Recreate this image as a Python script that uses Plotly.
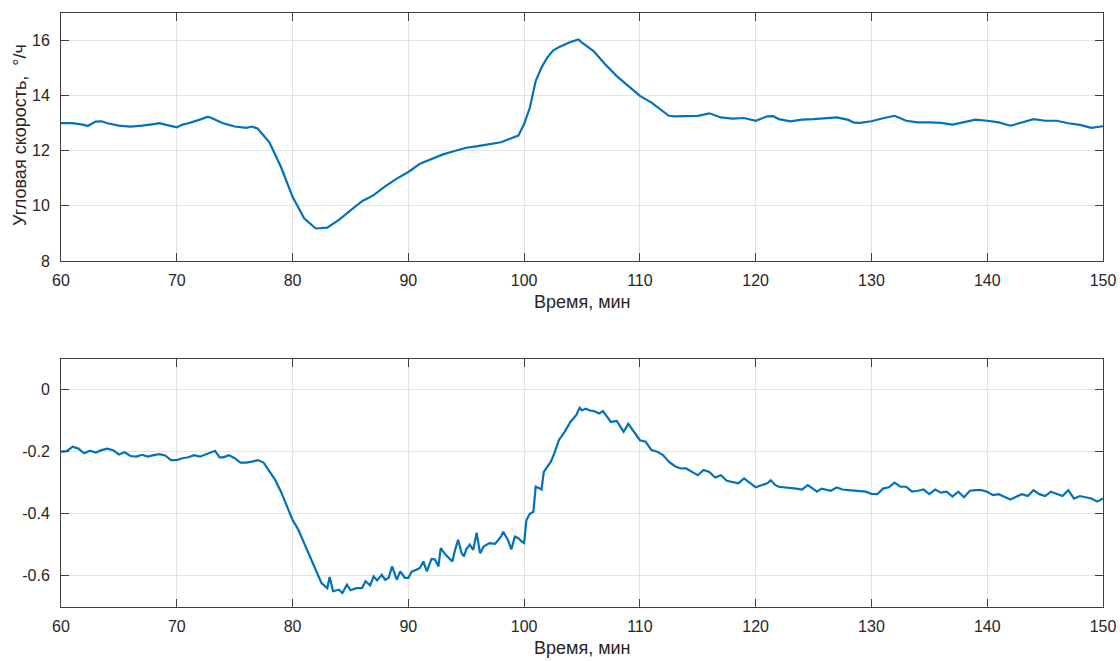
import plotly.graph_objects as go

# ---- Top panel: angular rate, deg/h ----
t_top = [60, 61, 62, 62.3, 63, 63.5, 64, 65, 66, 67, 68, 68.5, 69, 70, 70.5, 71, 72, 72.7, 73, 74,
         75, 76, 76.5, 77, 78, 79, 80, 81, 82, 83, 84, 85, 86, 87, 88, 89, 90, 91, 92, 93,
         94, 95, 96, 97, 98, 99, 99.5, 100, 100.5, 101, 101.5, 102, 102.5, 103, 104, 104.7, 105, 106, 107, 108,
         109, 110, 111, 112, 112.5, 113, 114, 115, 116, 117, 118, 119, 120, 121, 121.5, 122, 123, 124, 125, 126,
         127, 128, 128.5, 129, 130, 131, 132, 133, 134, 135, 136, 137, 138, 139, 140, 141, 142, 143, 144, 145,
         146, 147, 148, 149, 150]
v_top = [13.0, 13.0, 12.94, 12.9, 13.06, 13.07, 13.0, 12.91, 12.88, 12.91, 12.97, 13.0, 12.95, 12.85, 12.95, 13.0, 13.13, 13.24, 13.19, 13.0,
         12.88, 12.83, 12.88, 12.8, 12.31, 11.41, 10.33, 9.55, 9.18, 9.21, 9.49, 9.83, 10.17, 10.39, 10.71, 10.99, 11.23, 11.53, 11.71, 11.87,
         11.99, 12.11, 12.17, 12.25, 12.31, 12.47, 12.55, 12.97, 13.57, 14.53, 15.02, 15.38, 15.64, 15.76, 15.95, 16.04, 15.92, 15.62, 15.14, 14.71,
         14.35, 13.99, 13.75, 13.45, 13.27, 13.25, 13.27, 13.27, 13.36, 13.21, 13.17, 13.19, 13.09, 13.25, 13.26, 13.15, 13.07, 13.13, 13.15, 13.18,
         13.21, 13.12, 13.02, 13.01, 13.07, 13.18, 13.27, 13.09, 13.03, 13.03, 13.01, 12.95, 13.03, 13.13, 13.09, 13.03, 12.91, 13.03, 13.15, 13.09,
         13.09, 13.0, 12.94, 12.83, 12.89]

# ---- Bottom panel ----
t_bot = [60, 60.5, 61, 61.5, 62, 62.5, 63, 63.5, 64, 64.5, 65, 65.5, 66, 66.5, 67, 67.5, 68, 68.5, 69, 69.5,
         70, 70.5, 71, 71.5, 72, 72.5, 73, 73.3, 73.7, 74, 74.5, 75, 75.5, 76, 76.5, 77, 77.5, 78, 78.5, 79,
         79.5, 80, 80.5, 81, 81.5, 82, 82.5, 83, 83.2, 83.5, 84, 84.3, 84.7, 85, 85.5, 86, 86.3, 86.7, 87, 87.3,
         87.7, 88, 88.3, 88.6, 89, 89.3, 89.7, 90, 90.3, 90.7, 91, 91.3, 91.6, 92, 92.3, 92.6, 92.8, 93.2, 93.5, 93.8,
         94, 94.3, 94.6, 94.8, 95, 95.3, 95.6, 95.9, 96.2, 96.5, 97, 97.5, 98, 98.2, 98.6, 98.9, 99.2, 99.5, 99.8, 100,
         100.2, 100.5, 100.8, 101, 101.3, 101.5, 101.7, 102, 102.3, 102.6, 103, 103.5, 104, 104.5, 104.8, 105, 105.3, 105.7, 106, 106.5,
         106.8, 107, 107.5, 108, 108.3, 108.6, 109, 109.5, 110, 110.5, 111, 111.5, 112, 112.5, 113, 113.5, 114, 114.5, 115, 115.5,
         116, 116.5, 117, 117.5, 118, 118.5, 119, 119.5, 120, 120.5, 121, 121.3, 121.7, 122, 122.5, 123, 123.5, 124, 124.5, 125,
         125.3, 125.7, 126, 126.5, 127, 127.5, 128, 128.5, 129, 129.5, 130, 130.5, 131, 131.5, 132, 132.5, 133, 133.5, 134, 134.5,
         135, 135.5, 136, 136.5, 137, 137.5, 138, 138.5, 139, 139.5, 140, 140.5, 141, 141.5, 142, 142.5, 143, 143.5, 144, 144.5,
         145, 145.5, 146, 146.5, 147, 147.5, 148, 148.5, 149, 149.5, 150]
v_bot = [-0.200, -0.198, -0.184, -0.190, -0.205, -0.197, -0.203, -0.195, -0.190, -0.195, -0.209, -0.202, -0.214, -0.216, -0.210, -0.216, -0.211, -0.208, -0.212, -0.227,
         -0.227, -0.221, -0.218, -0.211, -0.216, -0.208, -0.200, -0.197, -0.218, -0.218, -0.211, -0.221, -0.235, -0.235, -0.232, -0.227, -0.235, -0.264, -0.291, -0.329,
         -0.372, -0.420, -0.452, -0.495, -0.538, -0.575, -0.624, -0.640, -0.604, -0.650, -0.645, -0.656, -0.629, -0.647, -0.640, -0.640, -0.618, -0.631, -0.602, -0.615,
         -0.597, -0.613, -0.607, -0.570, -0.613, -0.586, -0.607, -0.607, -0.586, -0.581, -0.575, -0.554, -0.586, -0.546, -0.548, -0.570, -0.511, -0.532, -0.543, -0.554,
         -0.522, -0.484, -0.527, -0.538, -0.515, -0.500, -0.517, -0.461, -0.528, -0.506, -0.495, -0.497, -0.474, -0.458, -0.485, -0.515, -0.474, -0.479, -0.490, -0.495,
         -0.420, -0.400, -0.394, -0.313, -0.318, -0.322, -0.265, -0.249, -0.233, -0.206, -0.163, -0.136, -0.104, -0.082, -0.058, -0.067, -0.061, -0.067, -0.069, -0.077,
         -0.069, -0.079, -0.104, -0.101, -0.120, -0.136, -0.110, -0.136, -0.163, -0.168, -0.195, -0.200, -0.211, -0.232, -0.246, -0.254, -0.254, -0.265, -0.276, -0.259,
         -0.265, -0.283, -0.276, -0.294, -0.297, -0.302, -0.286, -0.302, -0.315, -0.308, -0.302, -0.292, -0.308, -0.313, -0.315, -0.315, -0.319, -0.322, -0.308, -0.321,
         -0.329, -0.319, -0.322, -0.326, -0.315, -0.322, -0.324, -0.326, -0.329, -0.329, -0.336, -0.337, -0.319, -0.315, -0.300, -0.313, -0.313, -0.329, -0.326, -0.322,
         -0.337, -0.322, -0.332, -0.329, -0.345, -0.329, -0.347, -0.326, -0.324, -0.324, -0.329, -0.340, -0.337, -0.345, -0.354, -0.345, -0.337, -0.343, -0.324, -0.337,
         -0.343, -0.329, -0.337, -0.343, -0.324, -0.351, -0.343, -0.347, -0.351, -0.361, -0.351]

x_ticks = [60, 70, 80, 90, 100, 110, 120, 130, 140, 150]
y_top_ticks = [8, 10, 12, 14, 16]
y_bot_ticks = [-0.6, -0.4, -0.2, 0]
y_bot_labels = ["-0.6", "-0.4", "-0.2", "0"]

x_title = "Время, мин"
y_title = "Угловая скорость,  °/ч"

LINE = "#0072BD"
AX = "#404040"
TXT = "#262626"
GRID = "#e3e3e3"
FONT = "Liberation Sans, Arial, sans-serif"

fig = go.Figure()
fig.add_trace(go.Scatter(x=t_top, y=v_top, mode="lines", line=dict(color=LINE, width=2.2),
                         xaxis="x", yaxis="y", showlegend=False))
fig.add_trace(go.Scatter(x=t_bot, y=v_bot, mode="lines", line=dict(color=LINE, width=2.2),
                         xaxis="x2", yaxis="y2", showlegend=False))

W, H = 1120, 661
x_dom = [61 / W, 1103 / W]
top_dom = [1 - 261 / H, 1 - 13 / H]
bot_dom = [1 - 606.7 / H, 1 - 358.7 / H]

common_x = dict(range=[60, 150], tickvals=x_ticks, showgrid=True, gridcolor=GRID, gridwidth=1,
                showline=True, linecolor=AX, linewidth=1, mirror="ticks", ticks="inside",
                ticklen=8, tickcolor=AX, tickfont=dict(family=FONT, size=16, color=TXT),
                ticklabelstandoff=5, automargin=False,
                zeroline=False, domain=x_dom, fixedrange=True)
common_y = dict(showgrid=True, gridcolor=GRID, gridwidth=1,
                showline=True, linecolor=AX, linewidth=1, mirror="ticks", ticks="inside",
                ticklen=8, tickcolor=AX, tickfont=dict(family=FONT, size=16, color=TXT),
                ticklabelstandoff=7, automargin=False,
                zeroline=False, fixedrange=True)

fig.update_layout(
    width=W, height=H,
    margin=dict(l=0, r=0, t=0, b=0),
    paper_bgcolor="white", plot_bgcolor="white",
    xaxis=dict(**common_x, anchor="y"),
    yaxis=dict(**common_y, range=[8, 17], tickvals=y_top_ticks, domain=top_dom, anchor="x"),
    xaxis2=dict(**common_x, anchor="y2"),
    yaxis2=dict(**common_y, range=[-0.7, 0.1], tickvals=y_bot_ticks, ticktext=y_bot_labels,
                domain=bot_dom, anchor="x2"),
    annotations=[
        dict(text=x_title, x=582 / W, y=1 - 302 / H, xref="paper", yref="paper",
             showarrow=False, xanchor="center", yanchor="middle",
             font=dict(family=FONT, size=18, color=TXT)),
        dict(text=x_title, x=582 / W, y=1 - 648 / H, xref="paper", yref="paper",
             showarrow=False, xanchor="center", yanchor="middle",
             font=dict(family=FONT, size=18, color=TXT)),
        dict(text=y_title, x=20 / W, y=1 - 135 / H, xref="paper", yref="paper",
             showarrow=False, xanchor="center", yanchor="middle", textangle=-90,
             font=dict(family=FONT, size=18, color=TXT)),
    ],
)

fig.write_html("out.html", config={"displayModeBar": False})
